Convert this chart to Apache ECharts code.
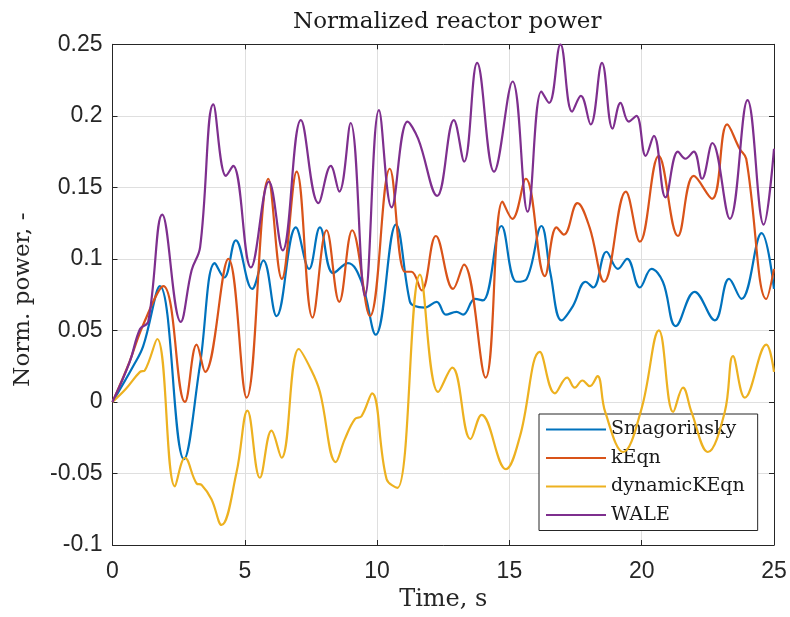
<!DOCTYPE html>
<html>
<head>
<meta charset="utf-8">
<script src="https://cdn.jsdelivr.net/npm/echarts@6/dist/echarts.min.js"></script>
<style>
html,body{margin:0;padding:0;background:#fff;}
#chart{width:790px;height:617px;}
</style>
</head>
<body>
<div id="chart"></div>
<script>
// ---- data ----
const seriesNames = ['Smagorinsky', 'kEqn', 'dynamicKEqn', 'WALE'];
const seriesColors = ['#0072BD', '#D95319', '#EDB120', '#7E2F8E'];

const smagTime  = [0, 0.78, 1.16, 1.79, 2.7, 3.3, 3.87, 4.22, 4.66, 5.28, 5.7, 6.2, 6.93, 7.43, 7.84, 8.34, 8.9, 9.41, 9.95, 10.71, 11.24, 11.42, 11.8, 12.25, 12.6, 13.0, 13.25, 13.7, 14.0, 14.7, 15.27, 15.65, 16.21, 16.55, 16.97, 17.4, 17.88, 18.17, 18.67, 19.1, 19.45, 19.93, 20.37, 20.8, 21.29, 22.0, 22.76, 23.3, 23.77, 24.53, 25.0];
const smagPower = [0, 0.025, 0.039, 0.081, -0.040, 0.025, 0.097, 0.087, 0.113, 0.079, 0.099, 0.060, 0.122, 0.093, 0.122, 0.090, 0.097, 0.084, 0.047, 0.124, 0.070, 0.067, 0.066, 0.070, 0.061, 0.063, 0.061, 0.072, 0.071, 0.123, 0.084, 0.086, 0.123, 0.090, 0.057, 0.067, 0.084, 0.080, 0.105, 0.093, 0.100, 0.080, 0.093, 0.084, 0.053, 0.077, 0.057, 0.086, 0.072, 0.118, 0.079];

const keqnTime  = [0, 0.6, 1.16, 1.92, 2.74, 3.18, 3.5, 4.38, 5.07, 5.89, 6.4, 6.96, 7.56, 8.09, 8.57, 9.06, 9.73, 10.48, 11.05, 11.3, 11.68, 12.22, 12.87, 13.28, 14.1, 14.74, 15.11, 15.62, 16.34, 16.78, 17.06, 17.57, 18.03, 18.58, 19.4, 19.93, 20.64, 21.37, 21.97, 22.66, 23.23, 23.7, 23.95, 24.71, 25.0];
const keqnPower = [0, 0.026, 0.054, 0.081, 0.000, 0.040, 0.021, 0.100, 0.003, 0.156, 0.086, 0.161, 0.059, 0.120, 0.070, 0.120, 0.060, 0.163, 0.091, 0.091, 0.078, 0.116, 0.079, 0.096, 0.017, 0.140, 0.128, 0.156, 0.088, 0.122, 0.117, 0.139, 0.122, 0.084, 0.147, 0.112, 0.172, 0.116, 0.158, 0.142, 0.194, 0.177, 0.170, 0.072, 0.093];

const dynTime  = [0, 0.5, 1.04, 1.22, 1.69, 2.36, 2.74, 3.18, 3.37, 3.74, 4.12, 4.69, 5.1, 5.57, 6.01, 6.39, 7.04, 7.52, 7.84, 8.44, 8.78, 9.16, 9.41, 9.81, 10.36, 10.77, 11.62, 12.31, 12.84, 13.53, 13.95, 14.87, 15.4, 16.15, 16.72, 17.18, 17.47, 17.76, 18.04, 18.33, 18.62, 19.3, 19.99, 20.65, 21.19, 21.56, 21.88, 22.5, 23.14, 23.45, 23.9, 24.71, 25.0];
const dynPower = [0, 0.009, 0.021, 0.022, 0.044, -0.059, -0.039, -0.057, -0.058, -0.068, -0.086, -0.049, -0.006, -0.053, -0.020, -0.039, 0.037, 0.022, 0.007, -0.042, -0.026, -0.012, -0.010, 0.006, -0.054, -0.060, 0.089, 0.007, 0.024, -0.026, -0.009, -0.047, -0.024, 0.035, 0.006, 0.017, 0.010, 0.015, 0.011, 0.018, -0.007, -0.035, -0.005, 0.050, -0.007, 0.010, -0.007, -0.035, -0.007, 0.032, 0.003, 0.040, 0.021];

const waleTime  = [0, 0.65, 1.04, 1.35, 1.88, 2.58, 2.99, 3.31, 3.81, 4.29, 4.56, 5.23, 5.91, 6.43, 7.12, 7.78, 8.25, 8.57, 9.0, 9.54, 10.07, 10.55, 11.15, 11.55, 12.27, 12.9, 13.29, 13.78, 14.42, 15.12, 15.69, 16.21, 16.5, 16.93, 17.37, 17.7, 18.07, 18.5, 18.9, 19.2, 19.51, 19.8, 20.15, 20.46, 20.9, 21.37, 21.65, 21.97, 22.28, 22.67, 23.33, 24.0, 24.61, 25.0];
const walePower = [0, 0.028, 0.051, 0.056, 0.131, 0.056, 0.092, 0.108, 0.208, 0.158, 0.165, 0.094, 0.154, 0.106, 0.197, 0.139, 0.165, 0.147, 0.195, 0.074, 0.204, 0.136, 0.196, 0.184, 0.144, 0.197, 0.168, 0.237, 0.161, 0.224, 0.133, 0.217, 0.209, 0.250, 0.203, 0.214, 0.194, 0.237, 0.191, 0.209, 0.196, 0.200, 0.172, 0.186, 0.143, 0.175, 0.170, 0.175, 0.156, 0.181, 0.128, 0.211, 0.124, 0.177];

const xTickLabels = ['0', '5', '10', '15', '20', '25'];
const yTickLabels = ['-0.1', '-0.05', '0', '0.05', '0.1', '0.15', '0.2', '0.25'];
const xMin = 0, xMax = 25, xStep = 5;
const yMin = -0.1, yMax = 0.25, yStep = 0.05;

// ---- chart ----
const times = [smagTime, keqnTime, dynTime, waleTime];
const powers = [smagPower, keqnPower, dynPower, walePower];
const zip = (a, b) => a.map((t, i) => [t, b[i]]);

const axisColor = '#262626';
const gridColor = '#dfdfdf';
const sans = 'Liberation Sans';
const serif = 'DejaVu Serif';

const chart = echarts.init(document.getElementById('chart'), null, {renderer: 'canvas'});

function xAxisCfg(pos, main) {
  return {
    type: 'value', position: pos, min: xMin, max: xMax, interval: xStep,
    axisLine: {show: true, onZero: false, lineStyle: {color: axisColor, width: 1}},
    axisTick: {show: true, inside: true, length: 5, lineStyle: {color: axisColor}},
    axisLabel: {show: main, margin: 15, color: axisColor, fontFamily: sans, fontSize: 23,
      formatter: v => xTickLabels[Math.round((v - xMin) / xStep)]},
    splitLine: {show: main, lineStyle: {color: gridColor, width: 1}},
    name: main ? 'Time, s' : '', nameLocation: 'middle', nameGap: 43,
    nameTextStyle: {color: axisColor, fontFamily: serif, fontSize: 24}
  };
}
function yAxisCfg(pos, main) {
  return {
    type: 'value', position: pos, min: yMin, max: yMax, interval: yStep,
    axisLine: {show: true, onZero: false, lineStyle: {color: axisColor, width: 1}},
    axisTick: {show: true, inside: true, length: 5, lineStyle: {color: axisColor}},
    axisLabel: {show: main, margin: 10, color: axisColor, fontFamily: sans, fontSize: 23,
      formatter: v => yTickLabels[Math.round((v - yMin) / yStep)]},
    splitLine: {show: main, lineStyle: {color: gridColor, width: 1}},
    name: main ? 'Norm. power, -' : '', nameLocation: 'middle', nameGap: 78,
    nameTextStyle: {color: axisColor, fontFamily: serif, fontSize: 23, padding: [0, 10, 0, 0]}
  };
}

chart.setOption({
  backgroundColor: '#ffffff',
  animation: false,
  title: {
    text: 'Normalized reactor power', left: 288, top: 6,
    textStyle: {color: '#1a1a1a', fontFamily: serif, fontSize: 23, fontWeight: 'normal'}
  },
  grid: {left: 112.5, right: 16, top: 44.3, bottom: 71, containLabel: false},
  xAxis: [xAxisCfg('bottom', true), xAxisCfg('top', false)],
  yAxis: [yAxisCfg('left', true), yAxisCfg('right', false)],
  legend: {
    orient: 'vertical', left: 539, top: 414,
    backgroundColor: '#ffffff', borderColor: axisColor, borderWidth: 1,
    padding: [6, 13, 6, 7], itemGap: 9.5, itemWidth: 60, itemHeight: 2,
    icon: 'rect',
    textStyle: {color: '#1a1a1a', fontFamily: serif, fontSize: 19},
    data: seriesNames
  },
  series: seriesNames.map((name, i) => ({
    name: name, type: 'line', xAxisIndex: 0, yAxisIndex: 0,
    data: zip(times[i], powers[i]),
    smooth: 0.4, symbol: 'none',
    lineStyle: {color: seriesColors[i], width: 2.2},
    itemStyle: {color: seriesColors[i]},
    z: 2 + i
  }))
});
</script>
</body>
</html>
